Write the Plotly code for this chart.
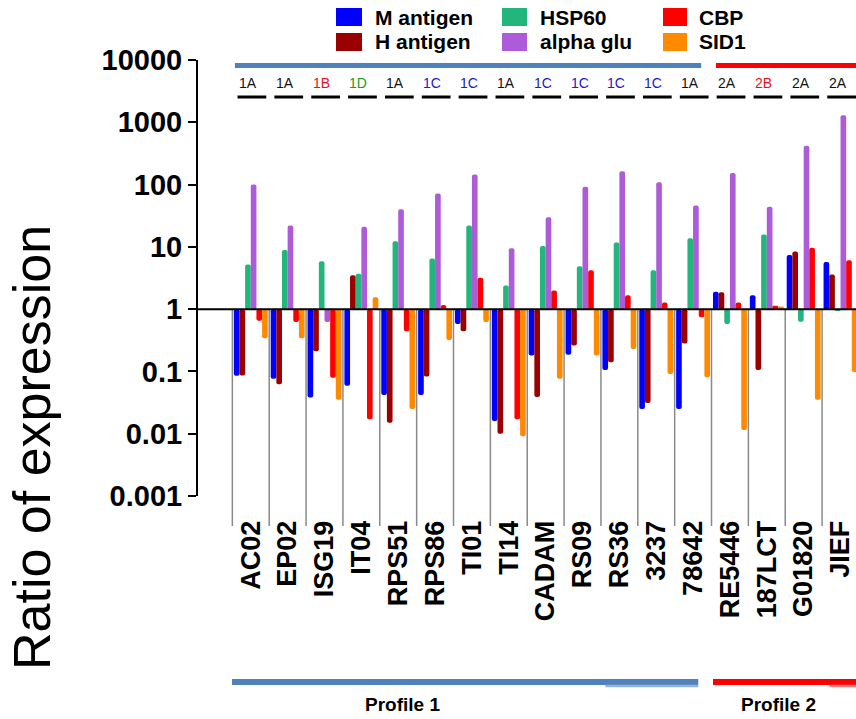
import plotly.graph_objects as go

# ---------------- data ----------------
categories = ["AC02", "EP02", "ISG19", "IT04", "RPS51", "RPS86", "TI01", "TI14",
              "CADAM", "RS09", "RS36", "3237", "78642", "RE5446", "187LCT", "G01820", "JIEF"]

m_antigen = [0.085, 0.076, 0.038, 0.059, 0.042, 0.042, 0.58, 0.016, 0.18, 0.185,
             0.105, 0.025, 0.025, 1.9, 1.67, 7.4, 5.7]
h_antigen = [0.086, 0.062, 0.21, 3.5, 0.015, 0.083, 0.44, 0.010, 0.039, 0.26,
             0.14, 0.031, 0.28, 1.87, 0.105, 8.4, 3.6]
hsp60 = [5.2, 8.9, 5.9, 3.7, 12.3, 6.5, 22, 2.4, 10.3, 4.9,
         11.7, 4.2, 13.8, 0.58, 15.8, 0.63, 0.95]
alpha_glu = [100, 22, 0.62, 21, 40, 72, 145, 9.5, 30, 92,
             163, 109, 46, 154, 44, 420, 1300]
cbp = [0.65, 0.62, 0.079, 0.017, 0.44, 1.17, 3.2, 0.017, 2.0, 4.2,
       1.67, 1.28, 0.74, 1.28, 1.13, 9.7, 6.1]
sid1 = [0.34, 0.34, 0.035, 1.55, 0.025, 0.32, 0.62, 0.0091, 0.076, 0.18,
        0.23, 0.091, 0.081, 0.0115, 1.1, 0.035, 0.098]

series_names = ["M antigen", "H antigen", "HSP60", "alpha glu", "CBP", "SID1"]
series_values = [m_antigen, h_antigen, hsp60, alpha_glu, cbp, sid1]
series_colors = ["#0000FF", "#9B0000", "#22B57C", "#AD5BD8", "#FF0000", "#FF8A00"]

subtype_labels = ["1A", "1A", "1B", "1D", "1A", "1C", "1C", "1A", "1C", "1C",
                  "1C", "1C", "1A", "2A", "2B", "2A", "2A"]
subtype_colors = {"1A": "#111111", "1B": "#E8101A", "1D": "#1A9A1A", "1C": "#2020C8",
                  "2A": "#111111", "2B": "#E8101A"}

y_tickvals = [0.001, 0.01, 0.1, 1, 10, 100, 1000, 10000]
y_ticktext = ["0.001", "0.01", "0.1", "1", "10", "100", "1000", "10000"]

profiles = [("Profile 1", -0.51, 12.14, "#4F81BD", "#95B3D7", 9.62),
            ("Profile 2", 12.54, 16.45, "#FF0000", "#FF8080", 15.7)]

# ---------------- layout geometry ----------------
W, H = 856, 719
ML, MR, MT, MB = 198, 0, 60, 223
PW, PH = W - ML - MR, H - MT - MB
X_RANGE = [-1.432, 16.42]


def px_x(px):
    return (px - ML) / PW


def px_y(py):
    return (MT + PH - py) / PH


BASE_PAPER = 3 / 7  # position of y=1 within log range [-3, 4]

FONT = "Arial, Liberation Sans, sans-serif"
NARROW = "Liberation Sans Narrow, Arial Narrow, " + FONT

fig = go.Figure()
for name, vals, col in zip(series_names, series_values, series_colors):
    fig.add_trace(go.Bar(
        name=name,
        x=categories,
        y=[v - 1 for v in vals],
        base=1,
        customdata=vals,
        hovertemplate="%{x}<br>" + name + ": %{customdata}<extra></extra>",
        marker=dict(color=col, line=dict(width=0), cornerradius=3),
        showlegend=False,
    ))

shapes = []
annotations = []

# baseline at ratio 1
shapes.append(dict(type="line", xref="paper", yref="paper", x0=0, x1=1,
                   y0=BASE_PAPER, y1=BASE_PAPER, line=dict(color="black", width=2),
                   layer="above"))

# gray separators
for i in range(len(categories)):
    shapes.append(dict(type="line", xref="x", yref="paper", x0=i - 0.5, x1=i - 0.5,
                       y0=BASE_PAPER, y1=px_y(526), line=dict(color="#8A8A8A", width=1.5),
                       layer="below"))

# top subtype labels and underlines
for i, lab in enumerate(subtype_labels):
    annotations.append(dict(x=i - 0.08, y=px_y(83), xref="x", yref="paper", text=lab,
                            showarrow=False, font=dict(family=FONT, size=14,
                                                       color=subtype_colors[lab]),
                            xanchor="center", yanchor="middle"))
    shapes.append(dict(type="line", xref="x", yref="paper", x0=i - 0.36, x1=i + 0.42,
                       y0=px_y(97), y1=px_y(97), line=dict(color="black", width=3)))

# profile bars (top and bottom) and labels
for name, x0, x1, col, light, xl in profiles:
    shapes.append(dict(type="line", xref="x", yref="paper", x0=x0 + 0.08, x1=x1 + 0.08,
                       y0=px_y(65.5), y1=px_y(65.5), line=dict(color=col, width=5)))
    shapes.append(dict(type="line", xref="x", yref="paper", x0=x0, x1=x1,
                       y0=px_y(682), y1=px_y(682), line=dict(color=col, width=6)))
    shapes.append(dict(type="line", xref="x", yref="paper", x0=xl, x1=x1,
                       y0=px_y(686), y1=px_y(686), line=dict(color=light, width=2.5)))

annotations.append(dict(x=4.11, y=px_y(704), xref="x", yref="paper", text="Profile 1",
                        showarrow=False, font=dict(family=NARROW, size=19, color="black",
                                                   weight="bold"),
                        xanchor="center", yanchor="middle"))
annotations.append(dict(x=14.32, y=px_y(704), xref="x", yref="paper", text="Profile 2",
                        showarrow=False, font=dict(family=NARROW, size=19, color="black",
                                                   weight="bold"),
                        xanchor="center", yanchor="middle"))

# y-axis title
annotations.append(dict(x=px_x(32), y=px_y(448), xref="paper", yref="paper",
                        text="Ratio of expression", textangle=-90, showarrow=False,
                        font=dict(family=FONT, size=52, color="black"),
                        xanchor="center", yanchor="middle"))

# manual legend (3 columns x 2 rows)
leg_cols = [(336, 362, 373), (502, 527, 538), (663, 687, 697)]
leg_rows = [(8, 26, 17), (33, 51, 42)]
for k, (name, col) in enumerate(zip(series_names, series_colors)):
    c, r = divmod(k, 2)
    sx0, sx1, tx = leg_cols[c]
    sy0, sy1, ty = leg_rows[r]
    shapes.append(dict(type="rect", xref="paper", yref="paper",
                       x0=px_x(sx0), x1=px_x(sx1), y0=px_y(sy1), y1=px_y(sy0),
                       fillcolor=col, line=dict(width=0)))
    annotations.append(dict(x=px_x(tx), y=px_y(ty), xref="paper", yref="paper", text=name,
                            showarrow=False, font=dict(family=FONT, size=21, color="black",
                                                       weight="bold"),
                            xanchor="left", yanchor="middle"))

fig.update_layout(
    width=W, height=H,
    margin=dict(l=ML, r=MR, t=MT, b=MB, pad=0),
    paper_bgcolor="white", plot_bgcolor="white",
    barmode="group", bargap=0.08, bargroupgap=0,
    showlegend=False,
    shapes=shapes, annotations=annotations,
    xaxis=dict(
        type="category", range=X_RANGE, showgrid=False, showline=False, zeroline=False,
        automargin=False,
        tickangle=-90, ticks="outside", ticklen=13, tickcolor="rgba(0,0,0,0)",
        tickfont=dict(family=FONT, size=27, color="black", weight="bold"),
    ),
    yaxis=dict(
        type="log", range=[-3, 4], tickvals=y_tickvals, ticktext=y_ticktext,
        automargin=False,
        showgrid=False, zeroline=False, showline=True, linecolor="black", linewidth=2,
        ticks="outside", ticklen=8, tickwidth=2, tickcolor="black",
        tickfont=dict(family=FONT, size=29, color="black", weight="bold"),
    ),
)

fig.write_html(
    "out.html",
    config={"displayModeBar": False},
    post_script="document.body.style.margin='0';document.body.style.overflow='hidden';",
)
